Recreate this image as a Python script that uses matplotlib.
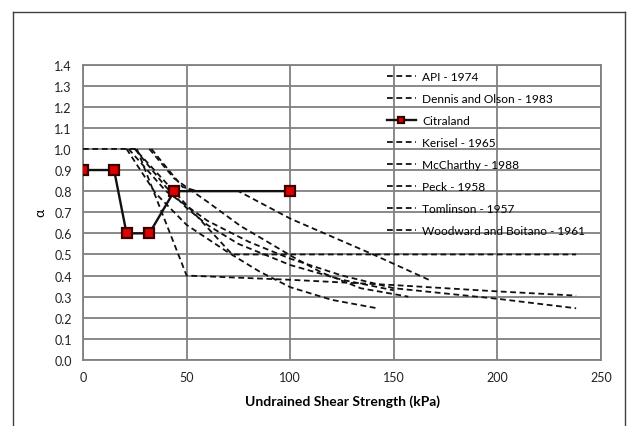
"""
Alpha method comparison chart -> out.png
"""
import matplotlib.pyplot as plt
from matplotlib.lines import Line2D

# Citraland measured values
CITRA_SU    = [0, 15, 21, 32, 44, 100]
CITRA_ALPHA = [0.9, 0.9, 0.6, 0.6, 0.8, 0.8]

# published alpha curves
API_SU       = [0, 25, 72, 238]
API_ALPHA    = [1.0, 1.0, 0.5, 0.5]
DENNIS_SU    = [22, 40, 60, 80, 100, 125, 150, 200, 238]
DENNIS_ALPHA = [1.0, 0.8, 0.66, 0.56, 0.48, 0.40, 0.34, 0.29, 0.245]
KERISEL_SU    = [33, 48, 55, 75, 100, 140, 168]
KERISEL_ALPHA = [1.0, 0.82, 0.8, 0.8, 0.67, 0.5, 0.375]
MCCARTHY_SU    = [25, 40, 50, 60, 75, 100, 125, 150]
MCCARTHY_ALPHA = [1.0, 0.82, 0.72, 0.64, 0.55, 0.45, 0.38, 0.33]
PECK_SU    = [26, 50, 100, 150, 200, 238]
PECK_ALPHA = [1.0, 0.40, 0.38, 0.355, 0.325, 0.305]
TOMLINSON_SU    = [21, 35, 50, 70, 85, 100, 120, 142]
TOMLINSON_ALPHA = [1.0, 0.79, 0.64, 0.51, 0.42, 0.345, 0.285, 0.245]
WOODWARD_SU    = [32, 44, 60, 76, 89, 101, 115, 134, 157]
WOODWARD_ALPHA = [1.0, 0.86, 0.75, 0.635, 0.56, 0.49, 0.415, 0.34, 0.30]

X_TICKS = [0, 50, 100, 150, 200, 250]
Y_TICKS = [0.0, 0.1, 0.2, 0.3, 0.4, 0.5, 0.6, 0.7, 0.8, 0.9, 1.0, 1.1, 1.2, 1.3, 1.4]

DASH = (0, (3.2, 2.0))
FONT = ['Lato', 'DejaVu Sans']


def draw_frame(fig):
    """figure 바깥 테두리 (좌, 상, 우)."""
    kw = dict(color='#404040', lw=1.0, transform=fig.transFigure, clip_on=False)
    x0, y0, x1 = 13 / 628, 1 - 13 / 427, 625 / 628
    fig.add_artist(Line2D([x0, x0], [0, y0], **kw))
    fig.add_artist(Line2D([x0, x1], [y0, y0], **kw))
    fig.add_artist(Line2D([x1, x1], [0, y0], **kw))


def main():
    plt.rcParams['font.family'] = FONT
    fig = plt.figure(figsize=(6.28, 4.27), dpi=100)
    ax = fig.add_axes([0.1322, 0.1546, 0.8248, 0.692])

    curves = [
        (API_SU, API_ALPHA, 'API - 1974'),
        (DENNIS_SU, DENNIS_ALPHA, 'Dennis and Olson - 1983'),
        None,
        (KERISEL_SU, KERISEL_ALPHA, 'Kerisel - 1965'),
        (MCCARTHY_SU, MCCARTHY_ALPHA, 'McCharthy - 1988'),
        (PECK_SU, PECK_ALPHA, 'Peck - 1958'),
        (TOMLINSON_SU, TOMLINSON_ALPHA, 'Tomlinson - 1957'),
        (WOODWARD_SU, WOODWARD_ALPHA, 'Woodward and Boitano - 1961'),
    ]
    for c in curves:
        if c is None:
            # Citraland: 실측값, 빨간 사각 마커
            ax.plot(CITRA_SU, CITRA_ALPHA, color='#111111', lw=1.7,
                    marker='s', ms=7, mfc='#e00000', mec='#3a0000', mew=1.6,
                    label='Citraland', zorder=5)
            continue
        su, alpha, name = c
        ax.plot(su, alpha, color='#111111', lw=1.3, linestyle=DASH, label=name, zorder=4)

    ax.set_xlim(0, 250)
    ax.set_ylim(0, 1.4)
    ax.set_xticks(X_TICKS)
    ax.set_yticks(Y_TICKS)
    ax.set_yticklabels([f'{v:.1f}' for v in Y_TICKS])
    ax.tick_params(length=0, labelsize=9, colors='#222222', pad=8)
    ax.grid(True, color='#808080', lw=1.3)
    ax.set_axisbelow(True)
    for s in ax.spines.values():
        s.set_color('#808080')
        s.set_linewidth(1.3)

    ax.set_xlabel('Undrained Shear Strength (kPa)', fontsize=10, fontweight='bold', labelpad=8)
    ax.set_ylabel('α', fontsize=10, labelpad=6)

    ax.legend(loc='upper left', bbox_to_anchor=(0.587, 0.978), frameon=False,
              fontsize=8.6, handlelength=2.4, handletextpad=0.55, markerscale=0.65,
              labelspacing=0.92, borderpad=0, borderaxespad=0)

    draw_frame(fig)
    fig.savefig('out.png', dpi=100, facecolor='white')
    plt.close(fig)


if __name__ == '__main__':
    main()
